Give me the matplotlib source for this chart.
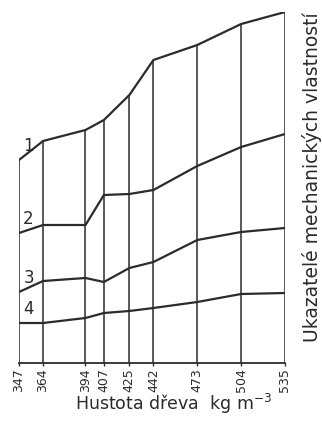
import numpy as np
import matplotlib
matplotlib.use("Agg")
import matplotlib.pyplot as plt

# density of wood (kg m^-3)
hustota = [347, 364, 394, 407, 425, 442, 473, 504, 535]

# relative values of mechanical properties (arbitrary units)
krivka1 = [203, 222, 233, 243, 268, 303, 318, 339, 351]
krivka2 = [130, 138, 138, 168, 169, 173, 197, 216, 229]
krivka3 = [71, 82, 85, 81, 95, 101, 123, 131, 135]
krivka4 = [40, 40, 45, 50, 52, 55, 61, 69, 70]
popisky = ["1", "2", "3", "4"]

barva = "#2b2b2b"

fig = plt.figure(figsize=(3.22, 4.21), dpi=100)
ax = fig.add_axes([19/322, 58/421, 266/322, 351/421])

krivky = [krivka1, krivka2, krivka3, krivka4]
for k in krivky:
    ax.plot(hustota, k, color=barva, lw=1.6, solid_joinstyle="round")

# vertical lines from the axis up to the top curve
ax.vlines(hustota, 0, krivka1, color=barva, lw=1.1)

# curve numbers
for k, txt in zip(krivky, popisky):
    ax.text(350, k[0] + 5, txt, fontsize=12, color=barva, ha="left", va="bottom")

ax.set_xlim(347, 535)
ax.set_ylim(0, 351)
ax.set_xticks(hustota)
ax.set_xticklabels([str(h) for h in hustota], rotation=90, fontsize=9, color=barva)
ax.set_yticks([])
ax.tick_params(axis="x", length=2, width=1, color=barva, pad=2)
for s in ["top", "left", "right"]:
    ax.spines[s].set_visible(False)
ax.spines["bottom"].set_color(barva)
ax.spines["bottom"].set_linewidth(1.3)
ax.patch.set_alpha(0)

fig.text(0.54, 0.012, "Hustota dřeva  kg m$^{-3}$", fontsize=12.5, color=barva,
         ha="center", va="bottom")
fig.text(0.968, 0.58, "Ukazatelé mechanických vlastností", rotation=90,
         fontsize=13.5, color=barva, ha="center", va="center")

fig.savefig("out.png", dpi=100)
